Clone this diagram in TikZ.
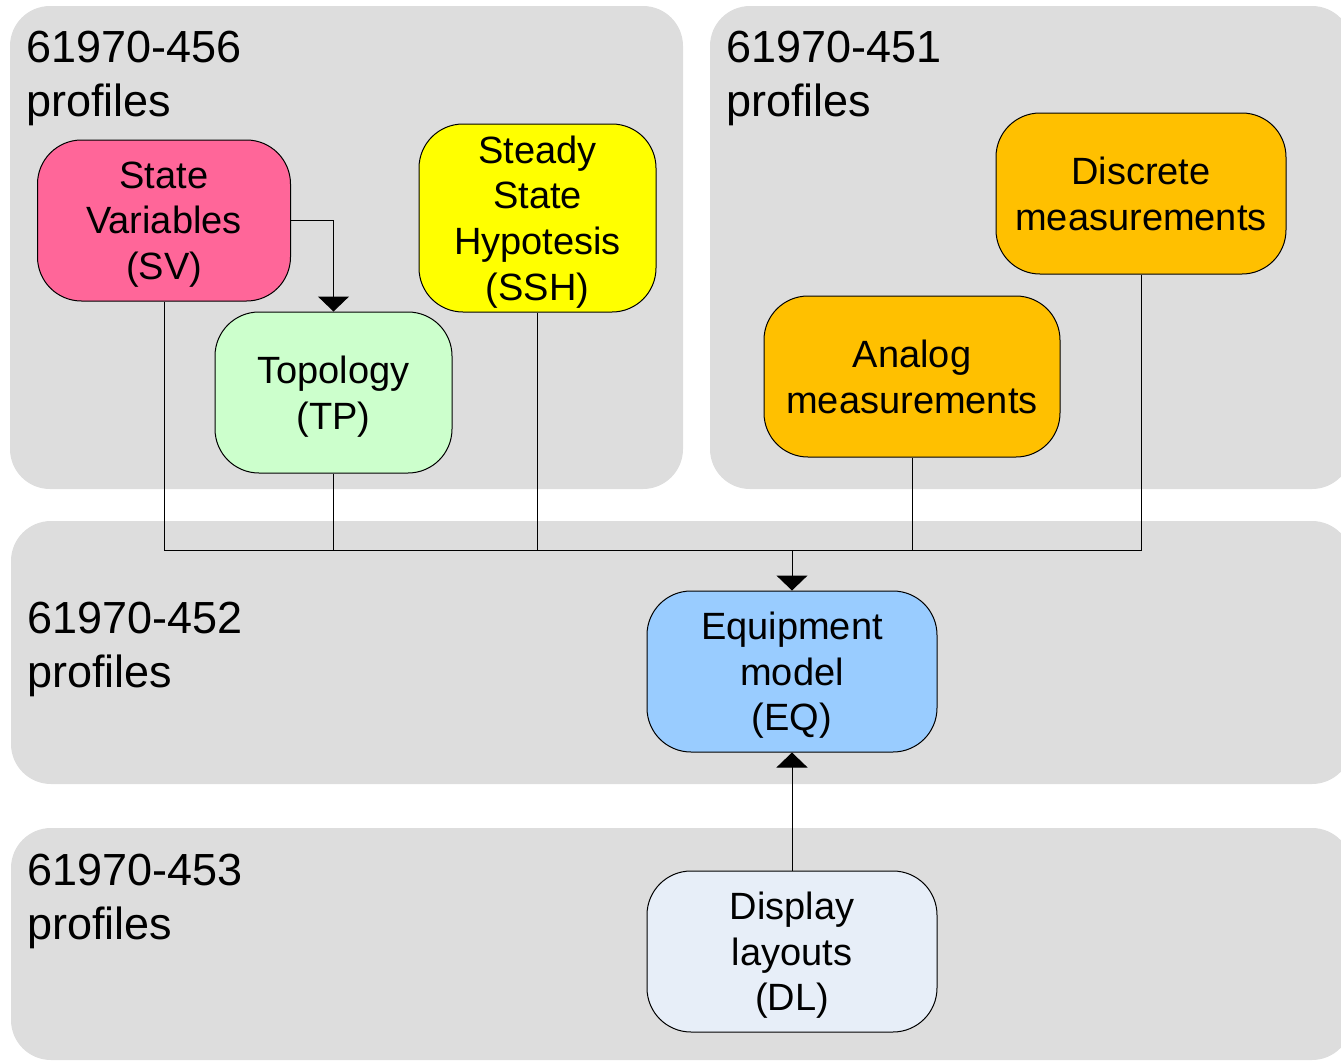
\documentclass[tikz,border=0pt]{standalone}
\usepackage{fontspec}
\setmainfont{Liberation Sans}
\usepackage{tikz}
\usetikzlibrary{arrows.meta}
\usetikzlibrary{positioning}
\definecolor{panelgrey}{HTML}{DDDDDD}
\definecolor{svpink}{HTML}{FF6699}
\definecolor{tpgreen}{HTML}{CCFFCC}
\definecolor{sshyellow}{HTML}{FFFF00}
\definecolor{measorange}{HTML}{FFC000}
\definecolor{eqblue}{HTML}{99CCFF}
\definecolor{dlblue}{HTML}{E7EEF8}
\newcommand{\boxfont}{\fontsize{19}{22.8}\selectfont}
\newcommand{\panelfont}{\fontsize{22.5}{27}\selectfont}
\tikzset{>={Triangle[width=15.5pt,length=7.5pt]}}

\begin{document}
\begin{tikzpicture}[x=0.5pt, y=-0.5pt,
	profile/.style={draw, line width=0.5pt, rounded corners=22pt, align=center, inner sep=0pt, text depth=0pt, minimum width=145pt, minimum height=80.5pt, font=\boxfont},
	panel/.style={fill=panelgrey, rounded corners=20pt},
	paneltext/.style={anchor=north west, inner sep=0pt, align=left, font=\panelfont},
	link/.style={line width=0.5pt},
	node distance=1cm, on grid]
		\useasboundingbox (0,0) rectangle (1341,1061);
		% grey panels
		\fill[panel] (10,6) rectangle (683,489);
		\fill[panel] (710,6) rectangle (1352,489);
		\fill[panel] (11,521) rectangle (1352,784);
		\fill[panel] (11,828) rectangle (1352,1060);
		\node[paneltext] (p456) at (26,31) {61970-456\\profiles};
		\node[paneltext] (p451) at (726,31) {61970-451\\profiles};
		\node[paneltext] (p452) at (27,602) {61970-452\\profiles};
		\node[paneltext] (p453) at (27,854) {61970-453\\profiles};
		% boxes
		\node[profile, fill=eqblue] (eq) at (792,671.5) {Equipment\\model\\(EQ)};
		\node[profile, fill=dlblue] (dl) [below=140pt of eq] {Display\\layouts\\(DL)};
		\node[profile, fill=svpink, minimum width=126.5pt] (sv) at (164,220.5) {State\\Variables\\(SV)};
		\node[profile, fill=tpgreen, minimum width=118.5pt] (tp) [below right=86pt and 84.75pt of sv] {Topology\\(TP)};
		\node[profile, fill=sshyellow, minimum width=118.5pt, minimum height=94pt] (ssh) at (537.5,218) {Steady\\State\\Hypotesis\\(SSH)};
		\node[profile, fill=measorange, minimum width=148pt] (analog) at (912,376.5) {Analog\\measurements};
		\node[profile, fill=measorange] (disc) at (1141,193.5) {Discrete\\measurements};
		\coordinate (bus) at (792,550);
		% connectors
		\draw[link, ->] (sv.east) -| (tp.north);
		\draw[link] (sv.south) |- (bus);
		\draw[link] (tp.south) |- (bus);
		\draw[link] (ssh.south) |- (bus);
		\draw[link] (analog.south) |- (bus);
		\draw[link] (disc.south) |- (bus);
		\draw[link, ->] (bus) -- (eq.north);
		\draw[link, ->] (dl.north) -- (eq.south);
	\end{tikzpicture}
\end{document}
